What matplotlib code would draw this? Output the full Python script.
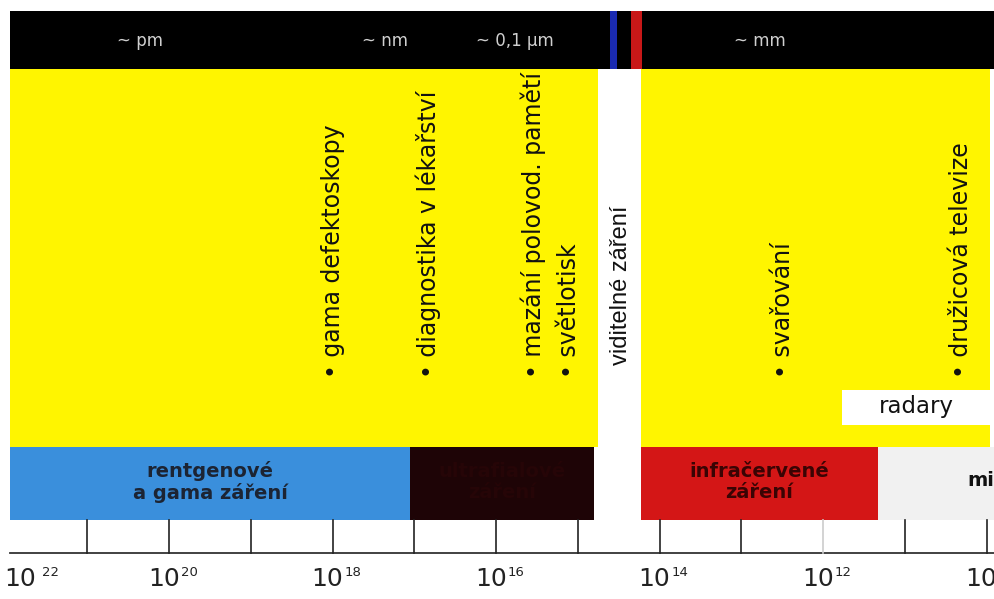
import matplotlib.pyplot as plt
from matplotlib.patches import Rectangle

# frequency axis in log10(f / Hz); y is measured in image rows (0 = top)
left_edge, right_edge = 22.07, 9.91

# bottom bands: name, start exponent, end exponent, fill, text colour
bands = [
    ("rentgenové\na gama záření", 21.95, 17.05, "#3a8fdc", "#1c2433"),
    ("ultrafialové\nzáření", 17.05, 14.80, "#1e0406", "#260507"),
    ("infračervené\nzáření", 14.23, 11.33, "#d41616", "#3a0404"),
    ("mikrovlny", 11.33, 9.90, "#f1f1f1", "#111111"),
]

# yellow application field (the visible light gap sits between the blocks)
yellow_blocks = [(21.95, 14.76), (14.23, 9.96)]
visible_label = ("viditelné záření", 14.47)

# applications drawn vertically with a bullet
applications = ["gama defektoskopy", "diagnostika v lékařství", "mazání polovod. pamětí",
                "světlotisk", "svařování", "družicová televize"]
app_pos = [18.0, 16.83, 15.55, 15.11, 12.49, 10.31]

# wavelength hints in the black top bar
wave_labels = ["~ pm", "~ nm", "~ 0,1 µm", "~ mm"]
wave_pos = [20.36, 17.36, 15.77, 12.77]

tick_exp = [21, 20, 19, 18, 17, 16, 15, 14, 13, 12, 11, 10]
faint_ticks = [12]
label_exp = [22, 20, 18, 16, 14, 12, 10]

fig = plt.figure(figsize=(9.94, 5.99), dpi=100)
ax = fig.add_axes([0, 0, 1, 1])
ax.set_xlim(left_edge, right_edge)
ax.set_ylim(599, 0)
ax.axis("off")

# top black bar with blue / red marks at the visible range
ax.add_patch(Rectangle((21.95, 11), 9.90 - 21.95, 58, color="black", lw=0))
ax.add_patch(Rectangle((14.61, 11), -0.09, 58, color="#1a2ab0", lw=0))
ax.add_patch(Rectangle((14.35, 11), -0.135, 58, color="#c81818", lw=0))
for lab, p in zip(wave_labels, wave_pos):
    ax.text(p, 41, lab, ha="center", va="center", color="#d0d0d0",
            fontsize=12, family="DejaVu Sans")

for a, b in yellow_blocks:
    ax.add_patch(Rectangle((a, 69), b - a, 378, color="#fff500", lw=0))

# bands and their names
for name, a, b, fill, tc in bands:
    ax.add_patch(Rectangle((a, 447), b - a, 73, color=fill, lw=0))
    if name == "mikrovlny":
        ax.text(a - 1.09, 481, name, ha="left", va="center", color=tc,
                fontsize=14, fontweight="bold", clip_on=True)
    else:
        ax.text((a + b) / 2, 482, name, ha="center", va="center", color=tc,
                fontsize=14, fontweight="bold", linespacing=1.1)

# radary box
ax.add_patch(Rectangle((11.77, 390), 9.96 - 11.77, 35, color="white", lw=0))
ax.text(10.86, 407, "radary", ha="center", va="center", color="#111111", fontsize=16.5)

ax.text(visible_label[1], 285, visible_label[0], rotation=90, ha="center", va="center",
        color="#111111", fontsize=17, family="Liberation Sans")

for lab, p in zip(applications, app_pos):
    ax.text(p, 378, "\u2022 " + lab, rotation=90, ha="center", va="bottom",
            color="#111111", fontsize=17)

# frequency scale
ax.plot([21.95, 9.90], [553, 553], color="#333333", lw=1.3)
for e in tick_exp:
    c = "#cccccc" if e in faint_ticks else "#222222"
    ax.plot([e, e], [520, 553], color=c, lw=1.2)
for e in label_exp:
    if e == 22:
        base_dx, ha = -1, "left"
        sup_dx = 26
    else:
        base_dx, ha = 7.5, "right"
        sup_dx = 8.5
    ax.annotate("10", xy=(e, 579), xytext=(base_dx, 0), textcoords="offset points",
                ha=ha, va="center", fontsize=18, color="#222222")
    ax.annotate(str(e), xy=(e, 579), xytext=(sup_dx, 5), textcoords="offset points",
                ha="left", va="center", fontsize=9.5, color="#222222")

fig.savefig("out.png", dpi=100)
